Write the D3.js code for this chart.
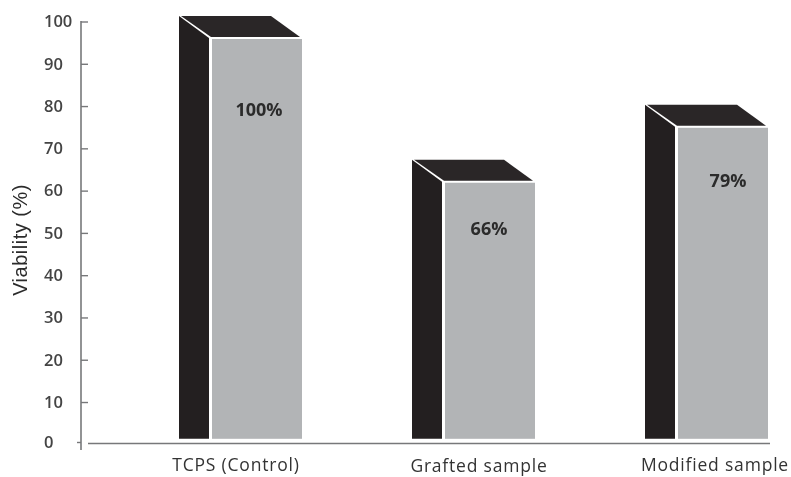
<!DOCTYPE html>
<html>
<head>
<meta charset="utf-8">
<script src="https://cdn.jsdelivr.net/npm/d3@7"></script>
<style>
  html, body { margin: 0; padding: 0; background: #fff; }
  svg { display: block; filter: blur(0.5px); }
</style>
</head>
<body>
<div id="chart"></div>
<script>
var w = 791, h = 477;

var categories = ['TCPS (Control)', 'Grafted sample', 'Modified sample'];
var viability = [100, 66, 79];
var valueLabels = ['100%', '66%', '79%'];
var yTicks = [0, 10, 20, 30, 40, 50, 60, 70, 80, 90, 100];

var sideW = 30, gap = 3, frontW = 90, depthY = 23;
var barShift = -5.5; // bars sit a little above the axis zero in the original
var tickFont = '"Open Sans", sans-serif';

var svg = d3.select('#chart').append('svg')
  .attr('width', w)
  .attr('height', h);

var y = d3.scaleLinear().domain([0, 100]).range([444.3, 21.5]);
var x = d3.scalePoint().domain(categories).range([179, 645]);

// y axis
var yAxis = svg.append('g')
  .attr('transform', 'translate(81,0)')
  .call(d3.axisLeft(y).tickValues(yTicks).tickFormat(d3.format('d')).tickSizeOuter(0).tickSizeInner(-7));

yAxis.select('.domain').remove();
yAxis.append('line')
  .attr('y1', 21).attr('y2', 450)
  .attr('stroke', '#77787a').attr('stroke-width', 1.6);
yAxis.selectAll('.tick line').attr('stroke', '#77787a').attr('stroke-width', 1.4);
yAxis.selectAll('.tick').filter(function(d) { return d === 0; })
  .attr('transform', 'translate(0,442.5)')
  .select('line').attr('x2', -4);
yAxis.selectAll('.tick text')
  .attr('x', -37)
  .attr('text-anchor', 'start')
  .attr('font-family', tickFont)
  .attr('font-size', 16.5)
  .attr('font-weight', 600)
  .attr('fill', '#444');

// x axis
svg.append('line')
  .attr('x1', 88).attr('x2', 770)
  .attr('y1', 443.5).attr('y2', 443.5)
  .attr('stroke', '#77787a').attr('stroke-width', 1.4);

svg.append('text')
  .attr('transform', 'translate(27,240) rotate(-90)')
  .attr('text-anchor', 'middle')
  .attr('font-family', '"Liberation Sans", sans-serif')
  .attr('font-size', 20)
  .attr('letter-spacing', 0.5)
  .attr('fill', '#2b2b2b')
  .text('Viability (%)');

// bars
var baseY = y(0) + barShift;
var bars = svg.selectAll('.bar')
  .data(categories)
  .enter().append('g')
  .attr('class', 'bar');

bars.each(function(cat, i) {
  var g = d3.select(this);
  var left = x(cat);
  var backTop = y(viability[i]) + barShift;
  var frontTop = backTop + depthY;
  var frontX = left + sideW + gap;

  // dark side
  g.append('path')
    .attr('fill', '#231f20')
    .attr('d', d3.line()([
      [left, backTop],
      [left + sideW, frontTop - 1],
      [left + sideW, baseY],
      [left, baseY]
    ]) + 'Z');

  // top face
  g.append('path')
    .attr('fill', '#2a2627')
    .attr('d', d3.line()([
      [left + 2, backTop],
      [left + 2 + frontW, backTop],
      [frontX + frontW - 2, frontTop - 2],
      [left + sideW + 2, frontTop - 2]
    ]) + 'Z');

  // front face
  g.append('rect')
    .attr('x', frontX)
    .attr('y', frontTop)
    .attr('width', frontW)
    .attr('height', baseY - frontTop)
    .attr('fill', '#b2b4b6');
});

// value labels, placed by hand in the original
var valueDx = [47, 44, 50];
var valueDy = [71, 46, 53];
svg.selectAll('.value')
  .data(valueLabels)
  .enter().append('text')
  .attr('class', 'value')
  .attr('x', function(d, i) { return x(categories[i]) + sideW + gap + valueDx[i]; })
  .attr('y', function(d, i) { return y(viability[i]) + barShift + depthY + valueDy[i]; })
  .attr('dy', '0.35em')
  .attr('text-anchor', 'middle')
  .attr('font-family', tickFont)
  .attr('font-size', 18)
  .attr('font-weight', 700)
  .attr('fill', '#2b2b2b')
  .text(function(d) { return d; });

// category labels do not line up in the original either
var catDx = [57, 67, 70];
var catY = [465, 466, 465];
svg.selectAll('.cat')
  .data(categories)
  .enter().append('text')
  .attr('class', 'cat')
  .attr('x', function(d, i) { return x(d) + catDx[i]; })
  .attr('y', function(d, i) { return catY[i]; })
  .attr('dy', '0.35em')
  .attr('text-anchor', 'middle')
  .attr('font-family', tickFont)
  .attr('font-size', 17.5)
  .attr('letter-spacing', 0.8)
  .attr('fill', '#333')
  .text(function(d) { return d; });
</script>
</body>
</html>
